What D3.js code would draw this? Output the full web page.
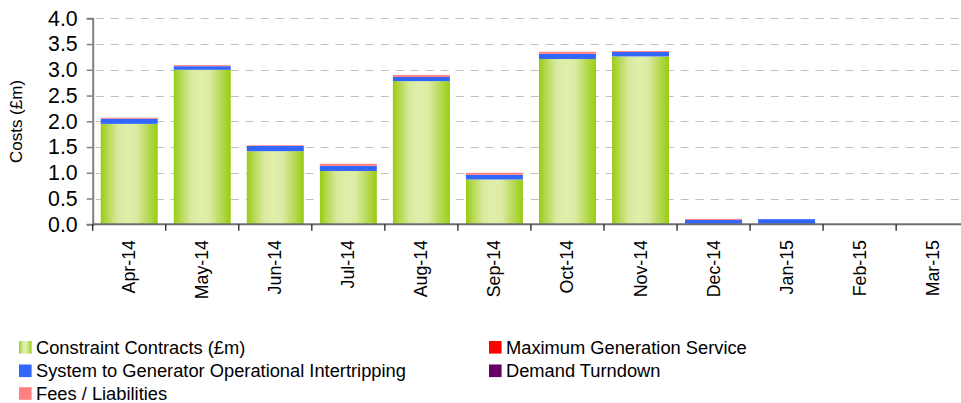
<!DOCTYPE html>
<html><head><meta charset="utf-8">
<script src="https://cdn.jsdelivr.net/npm/d3@7/dist/d3.min.js"></script>
<style>
html,body{margin:0;padding:0;background:#fff;}
svg{display:block;font-family:"Liberation Sans",Arial,sans-serif;}
</style></head>
<body>
<svg id="chart" width="961" height="403"></svg>
<script>
const months = ["Apr-14","May-14","Jun-14","Jul-14","Aug-14","Sep-14","Oct-14","Nov-14","Dec-14","Jan-15","Feb-15","Mar-15"];
const constraintContracts = [1.95, 3.00, 1.42, 1.035, 2.78, 0.87, 3.21, 3.26, 0, 0, 0, 0];
const maxGeneration      = [0, 0, 0, 0, 0, 0, 0, 0, 0, 0, 0, 0];
const intertripping      = [0.10, 0.07, 0.10, 0.10, 0.08, 0.09, 0.10, 0.085, 0.085, 0.10, 0, 0];
const demandTurndown     = [0, 0, 0, 0, 0, 0, 0, 0, 0, 0, 0, 0];
const feesLiabilities    = [0.02, 0.02, 0.015, 0.04, 0.04, 0.04, 0.04, 0.02, 0.02, 0, 0, 0];
const yTicks = [0, 0.5, 1.0, 1.5, 2.0, 2.5, 3.0, 3.5, 4.0];

const seriesNames = ["Constraint Contracts (£m)", "Maximum Generation Service", "System to Generator Operational Intertripping", "Demand Turndown", "Fees / Liabilities"];
const seriesValues = [constraintContracts, maxGeneration, intertripping, demandTurndown, feesLiabilities];
const seriesColors = ["url(#greenGrad)", "#ff0000", "#3366ff", "#660066", "#ff8080"];

const svg = d3.select("#chart");
const defs = svg.append("defs");
const g = defs.append("linearGradient").attr("id","greenGrad").attr("x1","0%").attr("x2","100%").attr("y1","0%").attr("y2","0%");
[["0%","#99cc11"],["12%","#b5d851"],["30%","#d8ea9e"],["45%","#e0eeaa"],["62%","#dceca4"],["80%","#bcdc62"],["100%","#99cc11"]]
 .forEach(s=>g.append("stop").attr("offset",s[0]).attr("stop-color",s[1]));

const x0 = 92.7, x1 = 969.2, yTop = 18.3, yBot = 224.3;
const x = d3.scaleBand().domain(months).range([x0, x1]).paddingInner(0.22).paddingOuter(0.11);
const y = d3.scaleLinear().domain([0, 4]).range([yBot, yTop]);

// gridlines
svg.append("g").selectAll("line").data(yTicks.filter(d=>d>0)).join("line")
  .attr("x1", x0+3).attr("x2", 961)
  .attr("y1", d=>Math.round(y(d))+0.5).attr("y2", d=>Math.round(y(d))+0.5)
  .attr("stroke", "#c0c0c0").attr("stroke-width", 1.2).attr("stroke-dasharray","8,7");

// stacked data
const table = months.map((m,i)=>{ const o={month:m}; seriesNames.forEach((s,k)=>o[s]=seriesValues[k][i]); return o; });
const stacked = d3.stack().keys(seriesNames)(table);

svg.append("g").selectAll("g").data(stacked).join("g")
  .attr("fill", (d,i)=>seriesColors[i])
  .selectAll("rect").data(d=>d).join("rect")
  .attr("x", d=>x(d.data.month))
  .attr("width", x.bandwidth())
  .attr("y", d=>y(d[1]))
  .attr("height", d=>Math.max(0, y(d[0])-y(d[1])));

// y axis
const yAxis = d3.axisLeft(y).tickValues(yTicks).tickFormat(d3.format(".1f")).tickSize(6).tickPadding(9);
const ya = svg.append("g").attr("transform", `translate(${x0},0)`).call(yAxis);
ya.select(".domain").attr("stroke","#808080").attr("stroke-width",2);
ya.selectAll(".tick line").attr("stroke","#808080").attr("stroke-width",1.5);
ya.selectAll("text").attr("font-size","21.3px").attr("fill","#000").attr("font-family","'Liberation Sans',Arial,sans-serif");

// x axis
const boundaries = months.map(m=>x(m) - x.step()*x.paddingInner()/2).concat([x1]);
svg.append("line").attr("x1", x0).attr("x2", 961).attr("y1", yBot).attr("y2", yBot)
  .attr("stroke","#707070").attr("stroke-width",2);
svg.append("g").selectAll("line").data(boundaries).join("line")
  .attr("x1", d=>d).attr("x2", d=>d).attr("y1", yBot).attr("y2", yBot+6.5)
  .attr("stroke","#202020").attr("stroke-width",1.3);
svg.append("g").selectAll("text").data(months).join("text")
  .attr("transform", d=>`translate(${x(d)+x.bandwidth()/2+6},240) rotate(-90)`)
  .attr("text-anchor","end")
  .attr("font-size","17.8px").attr("fill","#000")
  .text(d=>d);

// y label
svg.append("text").attr("transform","translate(22,121.5) rotate(-90)")
  .attr("text-anchor","middle").attr("font-size","17px").attr("fill","#000").text("Costs (£m)");

// legend
const legendItems = [
  {name: seriesNames[0], color: seriesColors[0], x: 19, y: 347.3},
  {name: seriesNames[1], color: seriesColors[1], x: 489, y: 347.3},
  {name: seriesNames[2], color: seriesColors[2], x: 19, y: 370.8},
  {name: seriesNames[3], color: seriesColors[3], x: 489, y: 370.8},
  {name: seriesNames[4], color: seriesColors[4], x: 19, y: 393.5}
];
const lg = svg.append("g").selectAll("g").data(legendItems).join("g")
  .attr("transform", d=>`translate(${d.x},${d.y})`);
lg.append("rect").attr("x",0).attr("y",-6.3).attr("width",12.6).attr("height",12.6).attr("fill", d=>d.color);
lg.append("text").attr("x",17).attr("dy","0.36em").attr("font-size","18.3px").attr("fill","#000").text(d=>d.name);
</script>
</body></html>
